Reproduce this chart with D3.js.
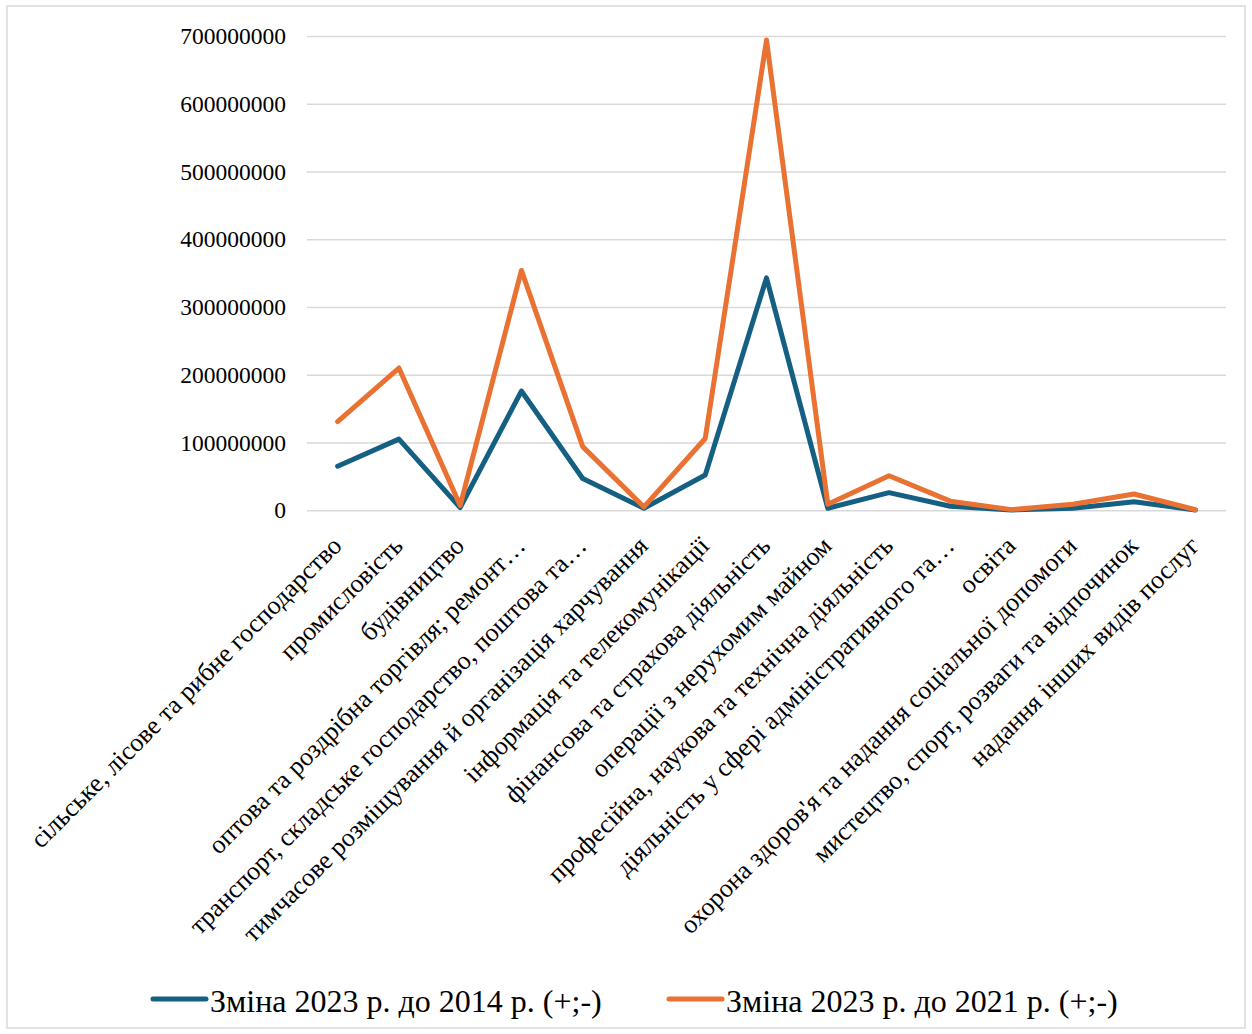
<!DOCTYPE html>
<html><head><meta charset="utf-8">
<script src="https://cdn.jsdelivr.net/npm/d3@7"></script>
<style>body{margin:0;background:#fff}svg{display:block}</style>
</head><body>
<svg id="c" width="1252" height="1034"></svg>
<script>
const categories = [
  "сільське, лісове та рибне господарство",
  "промисловість",
  "будівництво",
  "оптова та роздрібна торгівля; ремонт…",
  "транспорт, складське господарство, поштова та…",
  "тимчасове розміщування й організація харчування",
  "інформація та телекомунікації",
  "фінансова та страхова діяльність",
  "операції з нерухомим майном",
  "професійна, наукова та технічна діяльність",
  "діяльність у сфері адміністративного та…",
  "освіта",
  "охорона здоров'я та надання соціальної допомоги",
  "мистецтво, спорт, розваги та відпочинок",
  "надання інших видів послуг"
];
const change2014 = [65000000,105000000,4000000,176000000,47000000,3000000,52000000,343000000,3000000,26000000,6000000,500000,3000000,12500000,500000];
const change2021 = [131000000,210000000,7000000,354000000,94000000,5000000,106000000,694000000,9000000,51000000,13500000,1000000,9000000,24000000,800000];
const seriesNames = ["Зміна 2023 р. до 2014 р. (+;-)","Зміна 2023 р. до 2021 р. (+;-)"];
const seriesColors = ["#156082","#E97132"];
const yTicks = [0,100000000,200000000,300000000,400000000,500000000,600000000,700000000];

(function(){
const svg = d3.select("#c");
const font = "'Liberation Serif','Times New Roman',serif";
svg.append("rect").attr("x",7).attr("y",6).attr("width",1238).attr("height",1022)
  .attr("fill","#fff").attr("stroke","#d9d9d9").attr("stroke-width",1.5);

const pLeft=307, pRight=1226, pTop=36, pBottom=510.3;
const x = d3.scalePoint().domain(categories).range([pLeft,pRight]).padding(0.5);
const y = d3.scaleLinear().domain([0,700000000]).range([pBottom,pTop]);

const yAxis = d3.axisLeft(y).tickValues(yTicks).tickSize(-(pRight-pLeft)).tickFormat(d=>String(d)).tickPadding(21);
const gy = svg.append("g").attr("transform",`translate(${pLeft},0)`).call(yAxis);
gy.attr("font-family",font);
gy.select(".domain").remove();
gy.selectAll(".tick line").attr("stroke","#d9d9d9").attr("stroke-width",1.5);
gy.selectAll(".tick text").attr("font-family",font).attr("font-size",23.5).attr("fill","#000");

const xAxis = d3.axisBottom(x).tickSize(0).tickPadding(0);
const gx = svg.append("g").attr("transform",`translate(0,${pBottom})`).call(xAxis);
gx.attr("font-family",font);
gx.select(".domain").remove();
gx.selectAll(".tick text").attr("font-family",font).attr("font-size",26).attr("fill","#000")
  .attr("text-anchor","end").attr("dy",null).attr("y",null)
  .attr("transform","translate(5,37) rotate(-45)");

const series = [change2014, change2021];
const line = d3.line().x((d,i)=>x(categories[i])).y(d=>y(d));
series.forEach((s,k)=>{
  svg.append("path").datum(s).attr("d",line).attr("fill","none")
    .attr("stroke",seriesColors[k]).attr("stroke-width",5)
    .attr("stroke-linejoin","round").attr("stroke-linecap","round");
});

const legX = [153, 669];
seriesNames.forEach((n,k)=>{
  const g = svg.append("g").attr("transform",`translate(${legX[k]},999)`);
  g.append("line").attr("x1",0).attr("x2",53).attr("y1",0).attr("y2",0)
    .attr("stroke",seriesColors[k]).attr("stroke-width",5).attr("stroke-linecap","round");
  g.append("text").attr("x",57).attr("y",13).attr("font-family",font).attr("font-size",32)
    .attr("fill","#000").text(n);
});
})();
</script>
</body></html>
